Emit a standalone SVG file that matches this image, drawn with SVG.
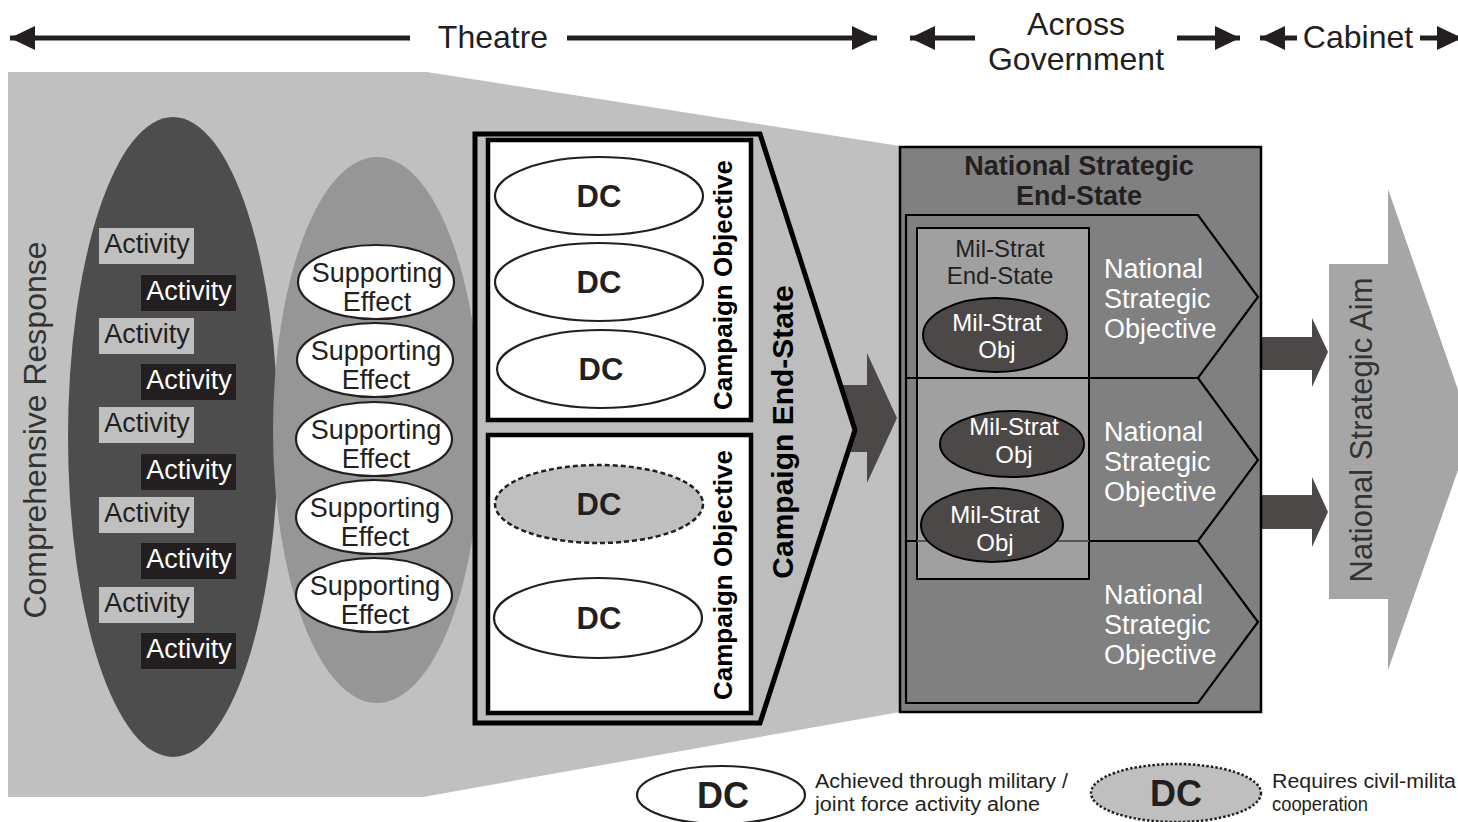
<svg xmlns="http://www.w3.org/2000/svg" width="1458" height="822" viewBox="0 0 1458 822">
  <defs>
    <marker id="head" markerUnits="userSpaceOnUse" markerWidth="25" markerHeight="24" refX="25" refY="12" orient="auto">
      <path d="M0,0 L25,12 L0,24 z" fill="#231f20"/>
    </marker>
    <style>
      text { font-family: "Liberation Sans", Arial, sans-serif; }
      .hdr { font-size: 32px; fill: #231f20; }
      .span { stroke: #231f20; stroke-width: 5; fill: none; marker-end: url(#head); }
      .act-l { fill: #bfbfbf; }
      .act-d { fill: #231f20; }
      .act-tl { font-size: 27px; fill: #231f20; text-anchor: middle; }
      .act-td { font-size: 27px; fill: #ffffff; text-anchor: middle; }
      .eff { fill: #ffffff; stroke: #231f20; stroke-width: 2.2; }
      .eff-t { font-size: 27px; fill: #231f20; text-anchor: middle; }
      .dc { fill: #ffffff; stroke: #231f20; stroke-width: 2.2; }
      .dc-civ { fill: #bfbfbf; stroke: #231f20; stroke-width: 2.5; stroke-dasharray: 5 3; }
      .dc-t { font-size: 31px; font-weight: bold; fill: #231f20; text-anchor: middle; }
      .cobj { fill: #ffffff; stroke: #000000; stroke-width: 4.5; }
      .cobj-t { font-size: 26px; font-weight: bold; fill: #000000; text-anchor: middle; }
      .nso { fill: #808080; stroke: #000000; stroke-width: 2.2; stroke-linejoin: miter; }
      .nso-t { font-size: 27px; fill: #ffffff; }
      .mso { fill: #4d4848; stroke: #000000; stroke-width: 2; }
      .mso-t { font-size: 24px; fill: #ffffff; text-anchor: middle; }
      .block { fill: #4d4848; }
      .leg-t { font-size: 20px; fill: #231f20; }
    </style>
  </defs>

  <!-- header scope arrows -->
  <g id="header">
    <line class="span" x1="410" y1="38" x2="10" y2="38"/>
    <text class="hdr" x="493" y="48" text-anchor="middle">Theatre</text>
    <line class="span" x1="567" y1="38" x2="877" y2="38"/>
    <line class="span" x1="975" y1="38" x2="910" y2="38"/>
    <text class="hdr" x="1076" y="35" text-anchor="middle">Across</text>
    <text class="hdr" x="1076" y="70" text-anchor="middle">Government</text>
    <line class="span" x1="1177" y1="38" x2="1240" y2="38"/>
    <line class="span" x1="1297" y1="38" x2="1260" y2="38"/>
    <text class="hdr" x="1358" y="48" text-anchor="middle">Cabinet</text>
    <line class="span" x1="1420" y1="38" x2="1462" y2="38"/>
  </g>

  <!-- theatre funnel backdrop -->
  <g id="theatre-backdrop">
    <polygon points="8,72 427,72 900,146 900,712 423,797 8,797" fill="#c0c0c0"/>
    <text x="46" y="430" font-size="32" fill="#333333" text-anchor="middle" transform="rotate(-90 46 430)">Comprehensive Response</text>
  </g>

  <!-- activities -->
  <g id="activities">
    <ellipse cx="173" cy="437" rx="105" ry="320" fill="#4d4d4d"/>
    <rect class="act-l" x="99" y="228" width="95" height="36"/>
    <text class="act-tl" x="147" y="253">Activity</text>
    <rect class="act-d" x="141" y="275" width="95" height="36"/>
    <text class="act-td" x="189" y="300">Activity</text>
    <rect class="act-l" x="99" y="318" width="95" height="36"/>
    <text class="act-tl" x="147" y="343">Activity</text>
    <rect class="act-d" x="141" y="364" width="95" height="36"/>
    <text class="act-td" x="189" y="389">Activity</text>
    <rect class="act-l" x="99" y="407" width="95" height="36"/>
    <text class="act-tl" x="147" y="432">Activity</text>
    <rect class="act-d" x="141" y="454" width="95" height="36"/>
    <text class="act-td" x="189" y="479">Activity</text>
    <rect class="act-l" x="99" y="497" width="95" height="36"/>
    <text class="act-tl" x="147" y="522">Activity</text>
    <rect class="act-d" x="141" y="543" width="95" height="36"/>
    <text class="act-td" x="189" y="568">Activity</text>
    <rect class="act-l" x="99" y="587" width="95" height="36"/>
    <text class="act-tl" x="147" y="612">Activity</text>
    <rect class="act-d" x="141" y="633" width="95" height="36"/>
    <text class="act-td" x="189" y="658">Activity</text>
  </g>

  <!-- supporting effects -->
  <g id="supporting-effects">
    <ellipse cx="377" cy="430" rx="104" ry="273" fill="#969696"/>
    <ellipse class="eff" cx="376" cy="282" rx="78" ry="37"/>
    <text class="eff-t" x="377" y="282">Supporting</text>
    <text class="eff-t" x="377" y="311">Effect</text>
    <ellipse class="eff" cx="375" cy="360" rx="78" ry="37"/>
    <text class="eff-t" x="376" y="360">Supporting</text>
    <text class="eff-t" x="376" y="389">Effect</text>
    <ellipse class="eff" cx="374" cy="439" rx="78" ry="37"/>
    <text class="eff-t" x="376" y="439">Supporting</text>
    <text class="eff-t" x="376" y="468">Effect</text>
    <ellipse class="eff" cx="374" cy="517" rx="78" ry="37"/>
    <text class="eff-t" x="375" y="517">Supporting</text>
    <text class="eff-t" x="375" y="546">Effect</text>
    <ellipse class="eff" cx="374" cy="595" rx="78" ry="37"/>
    <text class="eff-t" x="375" y="595">Supporting</text>
    <text class="eff-t" x="375" y="624">Effect</text>
  </g>

  <!-- block arrows between levels -->
  <g id="connectors">
    <polygon class="block" points="830,385 867,385 867,353 897,418 867,483 867,452 830,452"/>
    <polygon class="block" points="1262,337 1312,337 1312,318 1328,352 1312,387 1312,370 1262,370"/>
    <polygon class="block" points="1262,495 1312,495 1312,477 1328,512 1312,547 1312,529 1262,529"/>
  </g>

  <!-- campaign end-state with two campaign objectives -->
  <g id="campaign-end-state">
    <polygon points="475,134 760,134 855,430 760,723 475,723" fill="#bdbdbd" stroke="#000000" stroke-width="5" stroke-linejoin="miter"/>
    <text x="793" y="432" font-size="30" font-weight="bold" fill="#000000" text-anchor="middle" transform="rotate(-90 793 432)">Campaign End-State</text>
  </g>
  <g id="campaign-objective-1">
    <rect class="cobj" x="488" y="140" width="263" height="280"/>
    <ellipse class="dc" cx="599" cy="196" rx="104" ry="39"/>
    <text class="dc-t" x="599" y="207">DC</text>
    <ellipse class="dc" cx="599" cy="282" rx="104" ry="39"/>
    <text class="dc-t" x="599" y="293">DC</text>
    <ellipse class="dc" cx="601" cy="369" rx="104" ry="39"/>
    <text class="dc-t" x="601" y="380">DC</text>
    <text class="cobj-t" x="732" y="285" transform="rotate(-90 732 285)">Campaign Objective</text>
  </g>
  <g id="campaign-objective-2">
    <rect class="cobj" x="488" y="435" width="263" height="278"/>
    <ellipse class="dc-civ" cx="599" cy="504" rx="104" ry="39"/>
    <text class="dc-t" x="599" y="515">DC</text>
    <ellipse class="dc" cx="598" cy="618" rx="104" ry="40"/>
    <text class="dc-t" x="599" y="629">DC</text>
    <text class="cobj-t" x="732" y="575" transform="rotate(-90 732 575)">Campaign Objective</text>
  </g>

  <!-- national strategic end-state -->
  <g id="national-strategic-end-state">
    <rect x="900" y="147" width="361" height="565" fill="#808080" stroke="#000000" stroke-width="2.5"/>
    <text x="1079" y="175" font-size="27" font-weight="bold" fill="#231f20" text-anchor="middle">National Strategic</text>
    <text x="1079" y="205" font-size="27" font-weight="bold" fill="#231f20" text-anchor="middle">End-State</text>
  </g>
  <g id="nso-1">
    <polygon class="nso" points="906,215 1198,215 1258,297 1198,378 906,378"/>
    <text class="nso-t" x="1104" y="278">National</text>
    <text class="nso-t" x="1104" y="308">Strategic</text>
    <text class="nso-t" x="1104" y="338">Objective</text>
  </g>
  <g id="nso-2">
    <polygon class="nso" points="906,378 1198,378 1258,460 1198,541 906,541"/>
    <text class="nso-t" x="1104" y="441">National</text>
    <text class="nso-t" x="1104" y="471">Strategic</text>
    <text class="nso-t" x="1104" y="501">Objective</text>
  </g>
  <g id="nso-3">
    <polygon class="nso" points="906,541 1198,541 1258,622 1198,703 906,703"/>
    <text class="nso-t" x="1104" y="604">National</text>
    <text class="nso-t" x="1104" y="634">Strategic</text>
    <text class="nso-t" x="1104" y="664">Objective</text>
  </g>
  <g id="mil-strat-end-state">
    <rect x="917" y="228" width="172" height="351" fill="#a3a3a3" fill-opacity="0.92" stroke="#000000" stroke-width="2"/>
    <line x1="917" y1="378" x2="1089" y2="378" stroke="#000000" stroke-width="2"/>
    <line x1="917" y1="541" x2="1089" y2="541" stroke="#555555" stroke-width="2"/>
    <text x="1000" y="257" font-size="24" fill="#231f20" text-anchor="middle">Mil-Strat</text>
    <text x="1000" y="284" font-size="24" fill="#231f20" text-anchor="middle">End-State</text>
  </g>
  <g id="mil-strat-obj-1">
    <ellipse class="mso" cx="995" cy="335" rx="72" ry="37"/>
    <text class="mso-t" x="997" y="331">Mil-Strat</text>
    <text class="mso-t" x="997" y="358">Obj</text>
  </g>
  <g id="mil-strat-obj-2">
    <ellipse class="mso" cx="1012" cy="444" rx="72" ry="33"/>
    <text class="mso-t" x="1014" y="435">Mil-Strat</text>
    <text class="mso-t" x="1014" y="463">Obj</text>
  </g>
  <g id="mil-strat-obj-3">
    <ellipse class="mso" cx="992" cy="525" rx="71" ry="37"/>
    <text class="mso-t" x="995" y="523">Mil-Strat</text>
    <text class="mso-t" x="995" y="551">Obj</text>
  </g>

  <!-- national strategic aim -->
  <g id="national-strategic-aim">
    <polygon points="1329,264 1388,264 1388,189 1472,430 1388,670 1388,599 1329,599" fill="#a6a6a6"/>
    <text x="1372" y="430" font-size="31" fill="#333333" text-anchor="middle" transform="rotate(-90 1372 430)">National Strategic Aim</text>
  </g>

  <!-- key -->
  <g id="legend-military">
    <ellipse cx="721" cy="795" rx="84" ry="29" fill="#ffffff" stroke="#231f20" stroke-width="2.2"/>
    <text x="723" y="808" font-size="36" font-weight="bold" fill="#231f20" text-anchor="middle" textLength="52" lengthAdjust="spacingAndGlyphs">DC</text>
    <text class="leg-t" x="815" y="788" textLength="253" lengthAdjust="spacingAndGlyphs">Achieved through military /</text>
    <text class="leg-t" x="815" y="811" textLength="225" lengthAdjust="spacingAndGlyphs">joint force activity alone</text>
  </g>
  <g id="legend-civil-military">
    <ellipse cx="1176" cy="793" rx="85" ry="29" fill="#bfbfbf" stroke="#231f20" stroke-width="2.5" stroke-dasharray="2.5 2"/>
    <text x="1176" y="806" font-size="36" font-weight="bold" fill="#231f20" text-anchor="middle" textLength="52" lengthAdjust="spacingAndGlyphs">DC</text>
    <text class="leg-t" x="1272" y="788" textLength="184" lengthAdjust="spacingAndGlyphs">Requires civil-milita</text>
    <text class="leg-t" x="1272" y="811" textLength="96" lengthAdjust="spacingAndGlyphs">cooperation</text>
  </g>
</svg>
